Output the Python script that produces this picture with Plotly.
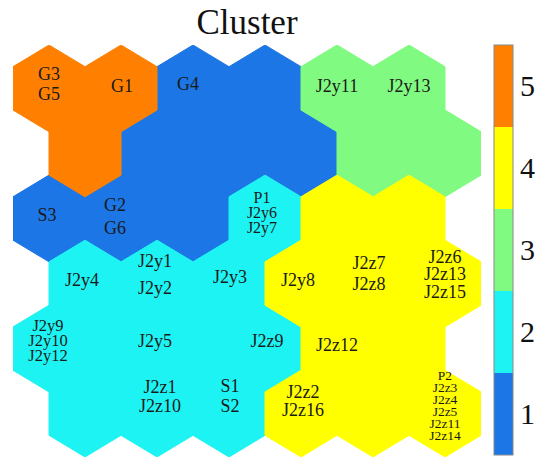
import plotly.graph_objects as go
import math

# ---------------- data ----------------
# cluster id of every cell of the 6x6 hexagonal SOM grid (rows top -> bottom)
cluster_grid = [
    [5, 5, 1, 1, 3, 3],
    [5, 1, 1, 1, 3, 3],
    [1, 1, 1, 2, 4, 4],
    [2, 2, 2, 4, 4, 4],
    [2, 2, 2, 2, 4, 4],
    [2, 2, 2, 4, 4, 4],
]
cluster_ids = [1, 2, 3, 4, 5]
cluster_colors = ["#1C76E6", "#1EF3F3", "#80FA80", "#FFFF00", "#FF8000"]
colorbar_ticks = ["1", "2", "3", "4", "5"]

# samples mapped on each cell (row, col)
label_cells = [(0, 0), (0, 1), (0, 2), (0, 4), (0, 5), (2, 0), (2, 1), (2, 3),
               (3, 0), (3, 1), (3, 2), (3, 3), (3, 4), (3, 5),
               (4, 0), (4, 1), (4, 3), (4, 4), (5, 1), (5, 2), (5, 3), (5, 5)]
label_names = [["G3", "G5"], ["G1"], ["G4"], ["J2y11"], ["J2y13"], ["S3"], ["G2", "G6"],
               ["P1", "J2y6", "J2y7"],
               ["J2y4"], ["J2y1", "J2y2"], ["J2y3"], ["J2y8"], ["J2z7", "J2z8"],
               ["J2z6", "J2z13", "J2z15"],
               ["J2y9", "J2y10", "J2y12"], ["J2y5"], ["J2z9"], ["J2z12"],
               ["J2z1", "J2z10"], ["S1", "S2"], ["J2z2", "J2z16"],
               ["P2", "J2z3", "J2z4", "J2z5", "J2z11", "J2z14"]]

# ---------------- style / layout (pixels) ----------------
# (dx, dy, line spacing, font size) for each label block
label_style = [(0, -3, 20, 18), (1, -1, 0, 18), (-5, -3, 0, 18), (0, -1, 0, 18), (0, -1, 0, 18),
               (-2, -2, 0, 18), (-6, 0, 23, 18), (-3, -4, 15, 16),
               (-3, -2, 0, 18), (-2, -8, 27, 18), (1, -5, 0, 18), (-3, -2, 0, 18),
               (-4, -9, 21, 18), (0, -8, 17.5, 18),
               (-1, -7, 15, 16.5), (34, -6, 0, 18), (2, -6, 0, 18), (0, -2, 0, 18),
               (3, -16, 19, 18), (1, -16, 20, 18), (2, -11, 18, 18), (0, -7, 12, 13.5)]

W, H = 550, 467
PX_X = 72.0          # pixels per x unit
PX_Y = 75.2          # pixels per y unit
DY = math.sqrt(3) / 2
S = 1 / math.sqrt(3)
nrows = len(cluster_grid)
x_range = [-0.5, 6.0]
y_range = [-(nrows - 1) * DY - S, S]
mar_l, mar_t = 13, 45
plot_w = (x_range[1] - x_range[0]) * PX_X
plot_h = (y_range[1] - y_range[0]) * PX_Y
mar_r = W - mar_l - plot_w
mar_b = H - mar_t - plot_h
SERIF = "Liberation Serif, Times New Roman, serif"


def cell_center(r, c):
    return c + 0.5 * (r % 2), -r * DY


hex_dx = [0, 0.5, 0.5, 0, -0.5, -0.5, 0]
hex_dy = [S, S / 2, -S / 2, -S, -S / 2, S / 2, S]

fig = go.Figure()

for cid, col in zip(cluster_ids, cluster_colors):
    xs, ys = [], []
    for r, row in enumerate(cluster_grid):
        for c, v in enumerate(row):
            if v != cid:
                continue
            cx, cy = cell_center(r, c)
            xs += [cx + d for d in hex_dx] + [None]
            ys += [cy + d for d in hex_dy] + [None]
    fig.add_trace(go.Scatter(x=xs, y=ys, mode="lines", fill="toself", fillcolor=col,
                             line=dict(color=col, width=1), hoverinfo="skip",
                             showlegend=False))

# labels
tx, ty, tt, ts = [], [], [], []
for (r, c), names, (dx, dy, sp, fs) in zip(label_cells, label_names, label_style):
    cx, cy = cell_center(r, c)
    n = len(names)
    for i, nm in enumerate(names):
        off = (i - (n - 1) / 2) * sp + dy
        tx.append(cx + dx / PX_X)
        ty.append(cy - off / PX_Y)
        tt.append(nm)
        ts.append(fs)
fig.add_trace(go.Scatter(x=tx, y=ty, text=tt, mode="text", textposition="middle center",
                         textfont=dict(family=SERIF, size=ts, color="#1a1a1a"),
                         hoverinfo="skip", showlegend=False))

# discrete colorbar
n = len(cluster_colors)
cs = []
for i, col in enumerate(cluster_colors):
    cs.append([i / n, col])
    cs.append([(i + 1) / n, col])
fig.add_trace(go.Scatter(
    x=[None], y=[None], mode="markers", showlegend=False, hoverinfo="skip",
    marker=dict(color=[1], cmin=0.5, cmax=5.5, colorscale=cs, showscale=True,
                colorbar=dict(
                    x=(494 - mar_l) / plot_w, xanchor="left", xpad=0,
                    y=(mar_t + plot_h - 250) / plot_h, yanchor="middle", ypad=0,
                    len=410, lenmode="pixels", thickness=19,
                    outlinecolor="#888888", outlinewidth=1,
                    tickvals=cluster_ids, ticktext=colorbar_ticks, ticks="",
                    tickfont=dict(family=SERIF, size=30, color="#111111"),
                ))))

fig.update_layout(
    width=W, height=H,
    margin=dict(l=mar_l, r=mar_r, t=mar_t, b=mar_b, pad=0),
    paper_bgcolor="white", plot_bgcolor="white",
    hovermode=False,
    title=dict(text="Cluster", x=0.5, xref="paper", y=1 - 22 / H, yref="container",
               xanchor="center", yanchor="middle",
               font=dict(family=SERIF, size=35, color="#111111")),
    xaxis=dict(range=x_range, visible=False, fixedrange=True),
    yaxis=dict(range=y_range, visible=False, fixedrange=True),
)

fig.write_html("out.html", config={"displayModeBar": False},
               post_script="document.body.style.margin='0';")
